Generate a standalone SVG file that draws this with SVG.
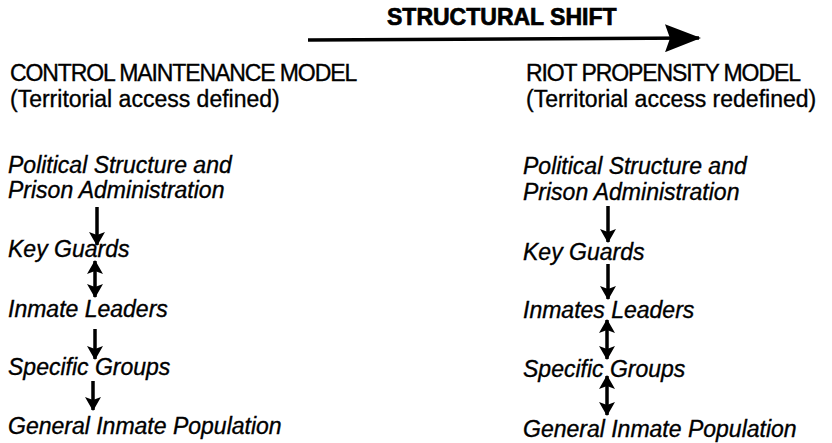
<svg xmlns="http://www.w3.org/2000/svg" width="832" height="443" viewBox="0 0 832 443">
  <style>
    text { fill: #000; stroke: #000; stroke-width: 0.35; font-family: "Liberation Sans", Arial, Helvetica, sans-serif; font-size: 23px; }
    .title { font-weight: bold; font-size: 23px; stroke-width: 0.7; }
    .head { font-size: 23px; letter-spacing: -1.1px; }
    .item { font-style: italic; }
    .link { stroke: #000; stroke-width: 3.5; fill: none; }
    .shift { stroke: #000; stroke-width: 3.5; fill: none; }
  </style>
  <defs>
    <marker id="head" markerUnits="userSpaceOnUse" viewBox="0 0 14 16" refX="13" refY="8" markerWidth="14" markerHeight="16" orient="auto-start-reverse">
      <path d="M0,0 L14,8 L0,16 L3,8 Z" fill="#000"/>
    </marker>
    <marker id="bighead" markerUnits="userSpaceOnUse" viewBox="0 0 36 28" refX="34" refY="14" markerWidth="36" markerHeight="28" orient="auto">
      <path d="M0,0 L36,14 L0,28 L5,14 Z" fill="#000"/>
    </marker>
  </defs>

  <rect width="832" height="443" fill="#fff"/>

  <!-- caption above the shift arrow -->
  <g id="structural-shift">
    <text class="title" x="387" y="25">STRUCTURAL SHIFT</text>
  </g>

  <!-- column headings -->
  <g id="control-model">
    <text class="head" x="10" y="81">CONTROL MAINTENANCE MODEL</text>
    <text x="10" y="107">(Territorial access defined)</text>
  </g>
  <g id="riot-model">
    <text class="head" x="526" y="81">RIOT PROPENSITY MODEL</text>
    <text x="526" y="107">(Territorial access redefined)</text>
  </g>

  <!-- left column nodes -->
  <g id="l-political">
    <text class="item" x="8" y="173">Political Structure and</text>
    <text class="item" x="8" y="198">Prison Administration</text>
  </g>
  <g id="l-guards"><text class="item" x="8" y="257">Key Guards</text></g>
  <g id="l-leaders"><text class="item" x="8" y="317">Inmate Leaders</text></g>
  <g id="l-groups"><text class="item" x="8" y="375">Specific Groups</text></g>
  <g id="l-population"><text class="item" x="8" y="434">General Inmate Population</text></g>

  <!-- right column nodes -->
  <g id="r-political">
    <text class="item" x="523" y="174">Political Structure and</text>
    <text class="item" x="523" y="200">Prison Administration</text>
  </g>
  <g id="r-guards"><text class="item" x="523" y="260">Key Guards</text></g>
  <g id="r-leaders"><text class="item" x="523" y="318">Inmates Leaders</text></g>
  <g id="r-groups"><text class="item" x="523" y="377">Specific Groups</text></g>
  <g id="r-population"><text class="item" x="523" y="437">General Inmate Population</text></g>

  <!-- connectors -->
  <g id="connectors">
    <line class="shift" x1="308" y1="40" x2="699" y2="38" marker-end="url(#bighead)"/>

    <line class="link" x1="97" y1="207" x2="97" y2="245" marker-end="url(#head)"/>
    <line class="link" x1="95" y1="261" x2="95" y2="297" marker-start="url(#head)" marker-end="url(#head)"/>
    <line class="link" x1="95" y1="329" x2="95" y2="359" marker-end="url(#head)"/>
    <line class="link" x1="93" y1="381" x2="93" y2="410" marker-end="url(#head)"/>

    <line class="link" x1="608" y1="206" x2="608" y2="242" marker-end="url(#head)"/>
    <line class="link" x1="608" y1="264" x2="608" y2="299" marker-end="url(#head)"/>
    <line class="link" x1="607" y1="320" x2="607" y2="359" marker-start="url(#head)" marker-end="url(#head)"/>
    <line class="link" x1="607" y1="376" x2="607" y2="415" marker-start="url(#head)" marker-end="url(#head)"/>
  </g>
</svg>
